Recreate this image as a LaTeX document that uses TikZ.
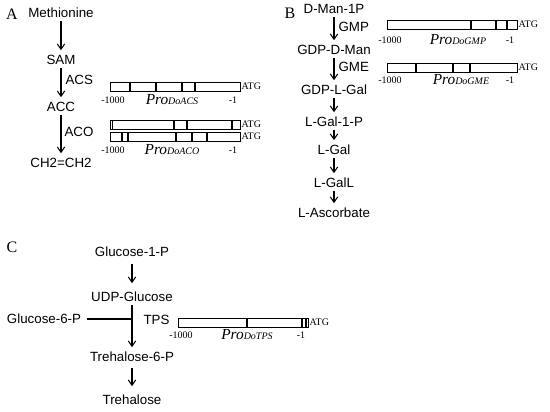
\documentclass[tikz,border=0pt]{standalone}
\usepackage{fontspec}
\setmainfont{Liberation Serif}
\setsansfont{Liberation Sans}
\usetikzlibrary{arrows.meta}

% promoter bar: name, left x, top y, tick offsets
\newcommand{\probar}[4]{%
  \draw[probox] (#2, #3) rectangle ++(130, 9);
  \foreach \t in {#4} { \draw[tickmark] (#2+\t, #3) -- ++(0, 9); }
  \node[num, anchor=west] (#1atg) at (#2+130, #3+4.5) {ATG};
}
% labels under a promoter bar: name, left x, y, gene, offset of gene label
\newcommand{\prolabels}[5]{%
  \node[num] (#1start) at (#2+3, #3) {-1000};
  \node[num] (#1end) at (#2+123, #3) {-1};
  \node[gene] (#1pro) at (#2+#5, #3) {Pro{\fontsize{7.5}{9}\selectfont #4}};
}

\begin{document}
\begin{tikzpicture}[x=0.75pt, y=-0.75pt,
  met/.style={font=\sffamily\fontsize{10}{12}\selectfont, inner sep=2.5pt,
    text height=7.3pt, text depth=0pt},
  enz/.style={font=\sffamily\fontsize{10}{12}\selectfont, anchor=west, inner sep=1pt},
  panel/.style={font=\fontsize{12}{14}\selectfont, inner sep=0pt},
  num/.style={font=\fontsize{7.5}{9}\selectfont, inner sep=1pt},
  gene/.style={font=\fontsize{11.5}{13}\selectfont\itshape, inner sep=0pt},
  probox/.style={line width=0.5pt},
  tickmark/.style={line width=1.1pt},
  arr/.style={-{Straight Barb[length=4pt, width=5.5pt]}, line width=0.8pt, shorten >=1pt}]

  \useasboundingbox (0, 0) rectangle (550, 411);

  % A: ethylene
  \node[panel] (pa) at (12, 14) {A};
  \node[met] (meth) at (61, 13) {Methionine};
  \node[met] (sam) at (61, 60) {SAM};
  \node[met] (acc) at (61, 107) {ACC};
  \node[met] (eth) at (61, 163) {CH2=CH2};

  \draw[arr] (meth) -- (sam);
  \draw[arr] (sam) -- (acc);
  \draw[arr] (acc) -- (eth);
  \node[enz] (acs) at (64, 80) {ACS};
  \node[enz] (aco) at (63, 132) {ACO};

  \probar{acs}{110}{82}{20, 46, 72, 85}
  \prolabels{acs}{110}{100}{DoACS}{62}
  \probar{acoa}{110}{120}{2.5, 64, 77, 122}
  \probar{acob}{110}{132}{12, 18, 66, 82, 97}
  \prolabels{aco}{110}{150}{DoACO}{62}

  % B: ascorbate
  \node[panel] (pb) at (290, 13) {B};
  \node[met] (dman) at (334, 9) {D-Man-1P};
  \node[met] (gdpdman) at (334, 50) {GDP-D-Man};
  \node[met] (gdplgal) at (334, 90) {GDP-L-Gal};
  \node[met] (lgalp) at (334, 122) {L-Gal-1-P};
  \node[met] (lgal) at (334, 150) {L-Gal};
  \node[met] (lgall) at (334, 183) {L-GalL};
  \node[met] (asc) at (334, 213) {L-Ascorbate};

  \draw[arr] (dman) -- (gdpdman);
  \draw[arr] (gdpdman) -- (gdplgal);
  \draw[arr] (gdplgal) -- (lgalp);
  \draw[arr] (lgalp) -- (lgal);
  \draw[arr] (lgal) -- (lgall);
  \draw[arr] (lgall) -- (asc);
  \node[enz] (gmp) at (337, 26.5) {GMP};
  \node[enz] (gme) at (337, 67) {GME};

  \probar{gmp}{387}{20}{84, 109, 120}
  \prolabels{gmp}{387}{40}{DoGMP}{71}
  \probar{gme}{387}{63}{29, 66, 83}
  \prolabels{gme}{387}{80}{DoGME}{74}

  % C: trehalose
  \node[panel] (pc) at (12, 247) {C};
  \node[met] (gone) at (132, 252) {Glucose-1-P};
  \node[met] (udp) at (132, 297) {UDP-Glucose};
  \node[met] (glcsix) at (44, 319) {Glucose-6-P};
  \node[met] (tsix) at (132, 357) {Trehalose-6-P};
  \node[met] (tre) at (132, 400) {Trehalose};

  \draw[arr, shorten <=3pt, shorten >=4pt] (gone) -- (udp);
  \draw[arr] (udp) -- (tsix);
  \draw[line width=0.8pt] ([xshift=2pt]glcsix.east) -- (glcsix.east -| udp);
  \draw[arr, shorten <=2pt, shorten >=4pt] (tsix) -- (tre);
  \node[enz] (tps) at (142, 320) {TPS};

  \probar{tps}{178}{318}{69, 124, 128}
  \prolabels{tps}{178}{335}{DoTPS}{69}

\end{tikzpicture}
\end{document}
